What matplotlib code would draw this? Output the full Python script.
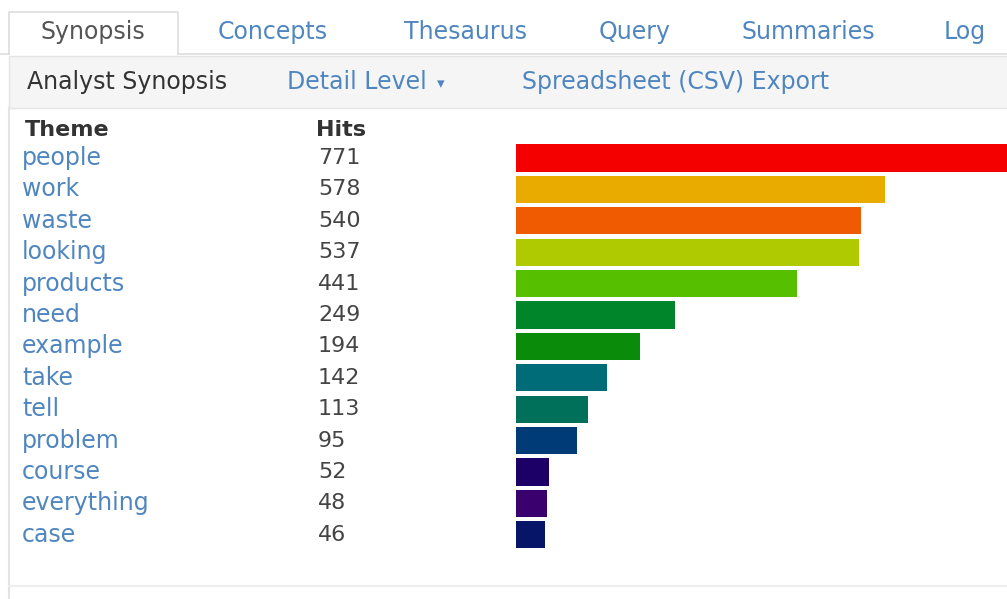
import matplotlib.pyplot as plt
import matplotlib.transforms as mtransforms
from matplotlib.patches import Rectangle

# Data
themes = ["people", "work", "waste", "looking", "products", "need", "example",
          "take", "tell", "problem", "course", "everything", "case"]
hits = [771, 578, 540, 537, 441, 249, 194, 142, 113, 95, 52, 48, 46]
bar_colors = ["#f40000", "#e9ab00", "#f05a00", "#afcb00", "#55bf00", "#00852a",
              "#0a8c0a", "#006c78", "#00705a", "#003b78", "#1c0068", "#3a006e",
              "#061568"]
tabs = ["Synopsis", "Concepts", "Thesaurus", "Query", "Summaries", "Log"]
tab_centers = [93, 273, 465, 635, 808, 965]

W, H = 1007, 599
fig = plt.figure(figsize=(W / 100, H / 100), dpi=100)
fig.patch.set_facecolor("white")

# background axes in pixel coords for the page chrome
bg = fig.add_axes([0, 0, 1, 1])
bg.set_xlim(0, W)
bg.set_ylim(H, 0)
bg.axis("off")

link = "#5086c0"
dark = "#333333"
border = "#dddddd"

# tab strip
bg.plot([0, 9], [54, 54], color=border, lw=1.2)
bg.plot([178, W], [54, 54], color=border, lw=1.2)
bg.plot([9, 9, 178, 178], [54, 12, 12, 54], color=border, lw=1.2)
for i, t in enumerate(tabs):
    bg.text(tab_centers[i], 32, t, ha="center", va="center", fontsize=17,
            family="DejaVu Sans", color="#555555" if i == 0 else link)

# toolbar
bg.add_patch(Rectangle((9, 56), W, 52, facecolor="#f5f5f5",
                       edgecolor="#e5e5e5", lw=1))
bg.text(27, 82, "Analyst Synopsis", ha="left", va="center", fontsize=17,
        family="DejaVu Sans", color=dark)
bg.text(287, 82, "Detail Level", ha="left", va="center", fontsize=17,
        family="DejaVu Sans", color=link)
bg.text(441, 84, "\u25be", ha="center", va="center", fontsize=11,
        family="DejaVu Sans", color=link)
bg.text(522, 82, "Spreadsheet (CSV) Export", ha="left", va="center",
        fontsize=17, family="DejaVu Sans", color=link)

# panel borders
bg.plot([9, 9], [108, H], color="#e3e3e3", lw=1.5)
bg.plot([9, W], [586, 586], color="#eeeeee", lw=1.5)

# headers
bg.text(25, 130, "Theme", ha="left", va="center", fontsize=16,
        fontweight="bold", family="DejaVu Sans", color=dark)
bg.text(316, 130, "Hits", ha="left", va="center", fontsize=16,
        fontweight="bold", family="DejaVu Sans", color=dark)

# bar axes: x from 516px to right edge, rows of ~31.4px
top_px, pitch = 142.3, 31.4
n = len(themes)
bottom_px = top_px + pitch * n
ax = fig.add_axes([516 / W, 1 - bottom_px / H, (W - 516) / W, pitch * n / H])
ax.barh(range(n), hits, height=0.86, color=bar_colors)
ax.set_xlim(0, (W - 516) / 0.638)
ax.set_ylim(n - 0.5, -0.5)
ax.axis("off")

trans = mtransforms.blended_transform_factory(bg.transData, ax.transData)
for i, (t, h) in enumerate(zip(themes, hits)):
    ax.text(22, i, t, transform=trans, ha="left", va="center", fontsize=17,
            family="DejaVu Sans", color=link)
    ax.text(318, i, str(h), transform=trans, ha="left", va="center",
            fontsize=16, family="DejaVu Sans", color="#444444")

fig.savefig("out.png", dpi=100)
